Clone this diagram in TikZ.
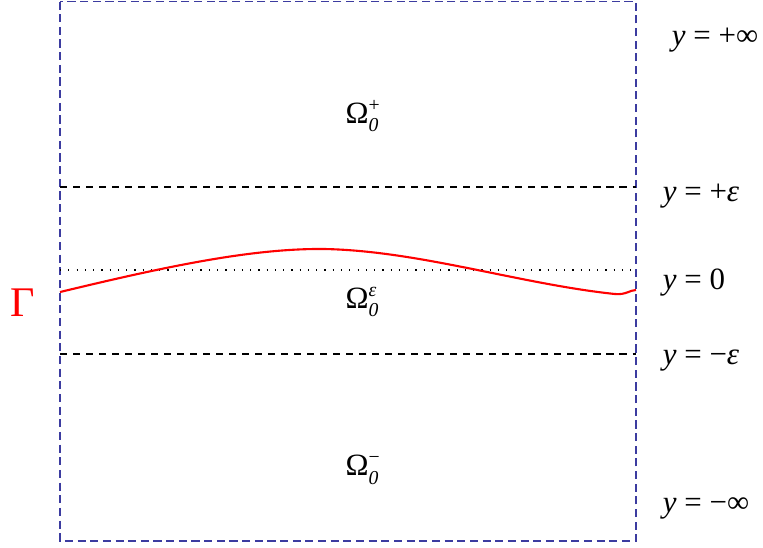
\documentclass[tikz,border=0pt]{standalone}
\usepackage{fontspec}
\setmainfont{Liberation Serif}
\definecolor{boxblue}{RGB}{60,60,160}
\newcommand{\Om}[1]{Ω\rlap{\raisebox{.85ex}{\fontsize{5.6}{6}\selectfont #1}}\raisebox{-.6ex}{\fontsize{5.6}{6}\selectfont\itshape 0}}
\begin{document}
\begin{tikzpicture}[x=.01cm,y=-.01cm,line width=.55pt,font=\fontsize{8.8}{10}\selectfont]
  \useasboundingbox (0,0) rectangle (763,547);
  \coordinate (tl) at (60,1.5);
  \coordinate (br) at (636,541);
  \coordinate (ep) at (60,187);
  \coordinate (em) at (60,354);
  \coordinate (z) at (60,270);
  \draw[boxblue,dash pattern=on 2.3pt off 1.3pt] (tl) rectangle (br);
  \draw[dash pattern=on 2pt off 1.7pt] (ep)--(ep-|br);
  \draw[dash pattern=on 2pt off 1.7pt] (em)--(em-|br);
  \draw[dotted,line width=.35pt] (z)--(z-|br);
  \draw[red,line width=.6pt] (60,292) .. controls (160,268) and (250,248) .. (325,249)
    .. controls (420,251) and (520,284) .. (615,294) .. controls (626,295) and (630,290) .. (636,290);
  \node at (362,116) {\Om{+}};
  \node at (362,302) {\Om{\itshape ε}};
  \node at (362,470) {\Om{−}};
  \node[red,font=\fontsize{12}{14}\selectfont] at (23,303) {Γ};
  \node at (715,40) {\textit{y} = +∞};
  \node at (701,196) {\textit{y} = +\textit{ε}};
  \node at (694,283) {\textit{y} = 0};
  \node at (701,361) {\textit{y} = −\textit{ε}};
  \node at (706,508) {\textit{y} = −∞};
\end{tikzpicture}
\end{document}
